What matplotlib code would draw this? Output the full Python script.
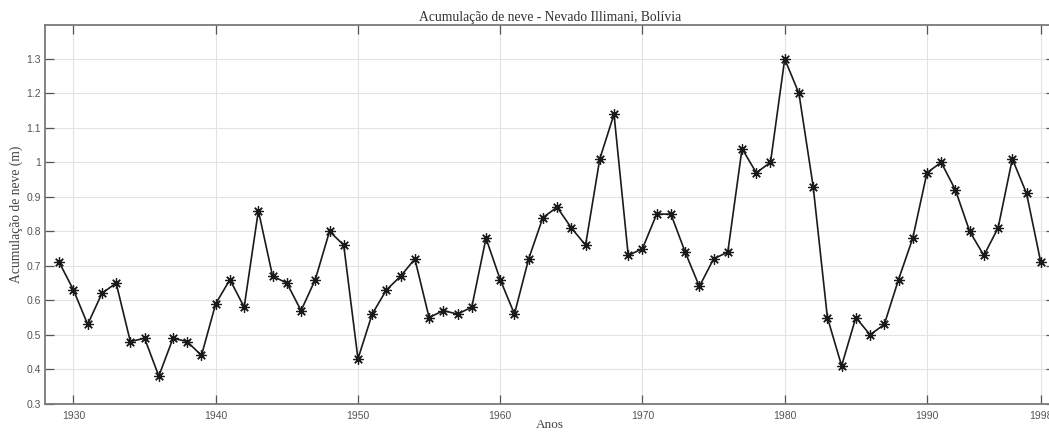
import matplotlib
matplotlib.use("Agg")
import matplotlib.pyplot as plt

# Annual snow accumulation, Nevado Illimani (m)
anos = list(range(1929, 1999))
acumulacao = [
    0.71, 0.63, 0.53, 0.62, 0.65, 0.48, 0.49, 0.38, 0.49, 0.48,  # 1929-1938
    0.44, 0.59, 0.66, 0.58, 0.86, 0.67, 0.65, 0.57, 0.66, 0.80,  # 1939-1948
    0.76, 0.43, 0.56, 0.63, 0.67, 0.72, 0.55, 0.57, 0.56, 0.58,  # 1949-1958
    0.78, 0.66, 0.56, 0.72, 0.84, 0.87, 0.81, 0.76, 1.01, 1.14,  # 1959-1968
    0.73, 0.75, 0.85, 0.85, 0.74, 0.64, 0.72, 0.74, 1.04, 0.97,  # 1969-1978
    1.00, 1.30, 1.20, 0.93, 0.55, 0.41, 0.55, 0.50, 0.53, 0.66,  # 1979-1988
    0.78, 0.97, 1.00, 0.92, 0.80, 0.73, 0.81, 1.01, 0.91, 0.71,  # 1989-1998
]
x_ticks = [1930, 1940, 1950, 1960, 1970, 1980, 1990, 1998]
y_ticks = [0.3, 0.4, 0.5, 0.6, 0.7, 0.8, 0.9, 1.0, 1.1, 1.2, 1.3]
y_tick_labels = ["0.3", "0.4", "0.5", "0.6", "0.7", "0.8", "0.9", "1", "1.1", "1.2", "1.3"]

W, H = 1049, 436
fig = plt.figure(figsize=(W / 100, H / 100), dpi=100)
left, right, top, bottom = 45, 1055, 24.5, 403.7
ax = fig.add_axes([left / W, 1 - bottom / H, (right - left) / W, (bottom - top) / H])

# asterisk markers (eight spokes) joined by a solid line
ax.plot(anos, acumulacao, color="#1a1a1a", linewidth=1.2,
        marker=(8, 2, 0), markersize=7.5,
        markeredgecolor="#1a1a1a", markeredgewidth=0.9)

ax.set_xlim(1928, 1999)
ax.set_ylim(0.3, 1.4)
ax.set_xticks(x_ticks)
ax.set_yticks(y_ticks)
ax.set_yticklabels(y_tick_labels)

ax.grid(True, color="#e3e3e3", linewidth=0.8)
ax.set_axisbelow(True)

for s in ax.spines.values():
    s.set_color("#7a7a7a")
    s.set_linewidth(1.3)

ax.tick_params(axis="both", direction="in", length=6.5, width=0.9,
               color="#555555", top=True, right=True,
               labelsize=7.5, labelcolor="#555555")
ax.tick_params(axis="x", pad=5)
ax.tick_params(axis="y", pad=3)
for lab in ax.get_xticklabels() + ax.get_yticklabels():
    lab.set_family(["Liberation Sans", "DejaVu Sans"])

serif = ["Liberation Serif", "DejaVu Serif"]
ax.set_title("Acumulação de neve - Nevado Illimani, Bolívia",
             family=serif, fontsize=9.8, color="#333333", pad=2.5)
ax.set_xlabel("Anos", family=serif, fontsize=9.5, color="#444444", labelpad=-1.5)
ax.set_ylabel("Acumulação de neve (m)", family=serif, fontsize=9.8,
              color="#444444", labelpad=2)

fig.savefig("out.png", dpi=100)
